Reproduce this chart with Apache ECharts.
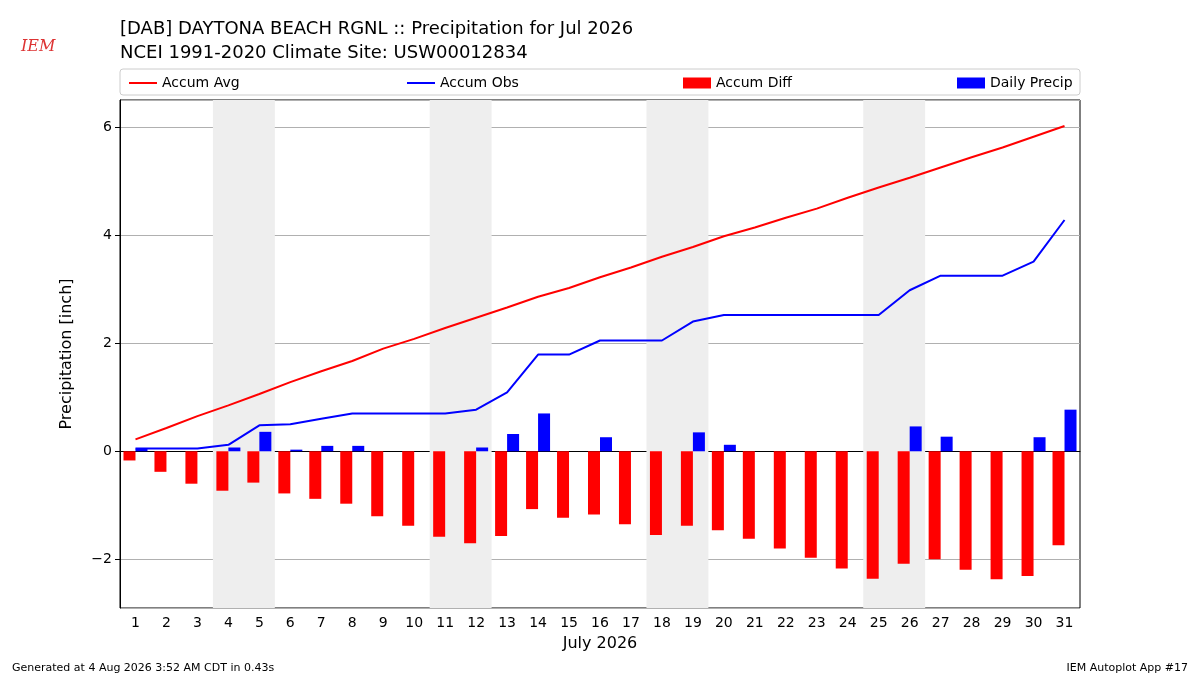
<!DOCTYPE html>
<html>
<head>
<meta charset="utf-8">
<script src="https://cdn.jsdelivr.net/npm/echarts@6/dist/echarts.min.js"></script>
<style>html,body{margin:0;padding:0;background:#fff}#chart{width:1200px;height:675px}</style>
</head>
<body>
<div id="chart"></div>
<script>
let myChart = echarts.init(document.getElementById('chart'));

// values, inches
const days = [];
for (let i = 1; i <= 31; i++) days.push(String(i));
const accumAvg = [0.22, 0.43, 0.65, 0.85, 1.06, 1.28, 1.48, 1.67, 1.90, 2.08, 2.28, 2.47, 2.66, 2.86, 3.02, 3.22,
  3.40, 3.60, 3.78, 3.98, 4.14, 4.32, 4.49, 4.69, 4.88, 5.06, 5.25, 5.44, 5.62, 5.82, 6.02];
const accumObs = [0.05, 0.05, 0.05, 0.12, 0.48, 0.50, 0.60, 0.70, 0.70, 0.70, 0.70, 0.77, 1.09, 1.79, 1.79, 2.05,
  2.05, 2.05, 2.40, 2.52, 2.52, 2.52, 2.52, 2.52, 2.52, 2.98, 3.25, 3.25, 3.25, 3.51, 4.28];
const daily = [0.05, 0, 0, 0.07, 0.36, 0.03, 0.10, 0.10, 0, 0, 0, 0.07, 0.32, 0.70, 0, 0.26,
  0, 0, 0.35, 0.12, 0, 0, 0, 0, 0, 0.46, 0.27, 0, 0, 0.26, 0.77];
const diff = accumObs.map((v, i) => +(v - accumAvg[i]).toFixed(2));
const weekends = [[3.5, 5.5], [10.5, 12.5], [17.5, 19.5], [24.5, 26.5]];

const font = 'DejaVu Sans';
const legendItem = (name, left, isLine) => ({
  data: [name], left: left, top: 71, itemWidth: 28, itemHeight: isLine ? 2 : 11, icon: 'rect', itemGap: 5,
  textStyle: { fontFamily: font, fontSize: 14, color: '#000' }, selectedMode: false
});

let option = {
  animation: false,
  textStyle: { fontFamily: font },
  title: [
    { text: '[DAB] DAYTONA BEACH RGNL :: Precipitation for Jul 2026\nNCEI 1991-2020 Climate Site: USW00012834',
      left: 115, top: 12, textStyle: { fontFamily: font, fontSize: 18, fontWeight: 'normal', lineHeight: 24, color: '#000' } },
    { text: 'Generated at 4 Aug 2026 3:52 AM CDT in 0.43s', left: 7, top: 658,
      textStyle: { fontFamily: font, fontSize: 11, fontWeight: 'normal', color: '#000' } },
    { text: 'IEM Autoplot App #17', right: 7, top: 658,
      textStyle: { fontFamily: font, fontSize: 11, fontWeight: 'normal', color: '#000' } },
    { text: 'IEM', left: 16, top: 34, textStyle: { fontFamily: 'DejaVu Serif', fontSize: 16, fontStyle: 'italic', fontWeight: 'normal', color: '#d33' } }
  ],
  graphic: [
    { type: 'rect', shape: { x: 120, y: 69, width: 960, height: 26, r: 3 }, style: { fill: '#fff', stroke: '#ccc' }, z: 0 }
  ],
  legend: [
    legendItem('Accum Avg', 124, true),
    legendItem('Accum Obs', 402, true),
    legendItem('Accum Diff', 678, false),
    legendItem('Daily Precip', 952, false)
  ],
  grid: { left: 120, right: 120, top: 100, bottom: 67, show: true, borderColor: '#000', borderWidth: 1 },
  xAxis: [
    { type: 'category', data: days, boundaryGap: true,
      axisLine: { lineStyle: { color: '#000' } }, axisTick: { alignWithLabel: true, lineStyle: { color: '#000' } },
      axisLabel: { color: '#000', fontSize: 14, interval: 0 },
      name: 'July 2026', nameLocation: 'middle', nameGap: 28, nameTextStyle: { fontSize: 16, color: '#000' } },
    { type: 'value', min: 0.5, max: 31.5, show: false }
  ],
  yAxis: {
    type: 'value', min: -2.9, max: 6.5, splitNumber: 5,
    name: 'Precipitation [inch]', nameLocation: 'middle', nameGap: 45, nameTextStyle: { fontSize: 16, color: '#000' },
    axisLine: { show: true, lineStyle: { color: '#000' } }, axisTick: { show: true, lineStyle: { color: '#000' } },
    axisLabel: { color: '#000', fontSize: 14, showMinLabel: false, showMaxLabel: false, formatter: v => v < 0 ? '\u2212' + (-v) : v },
    splitLine: { lineStyle: { color: '#b0b0b0' } }
  },
  series: [
    { name: 'weekend', type: 'line', xAxisIndex: 1, data: [], silent: true,
      markArea: { silent: true, itemStyle: { color: '#eeeeee' }, data: weekends.map(w => [{ xAxis: w[0] }, { xAxis: w[1] }]) } },
    { name: 'Accum Avg', type: 'line', data: accumAvg, showSymbol: false, color: '#ff0000', lineStyle: { width: 2 }, z: 5 },
    { name: 'Accum Obs', type: 'line', data: accumObs, showSymbol: false, color: '#0000ff', lineStyle: { width: 2 }, z: 5 },
    { name: 'Accum Diff', type: 'bar', data: diff, color: '#ff0000', barWidth: 12, barGap: '0%' },
    { name: 'Daily Precip', type: 'bar', data: daily, color: '#0000ff', barWidth: 12, barGap: '0%' }
  ]
};

option && myChart.setOption(option, false);
</script>
</body>
</html>
